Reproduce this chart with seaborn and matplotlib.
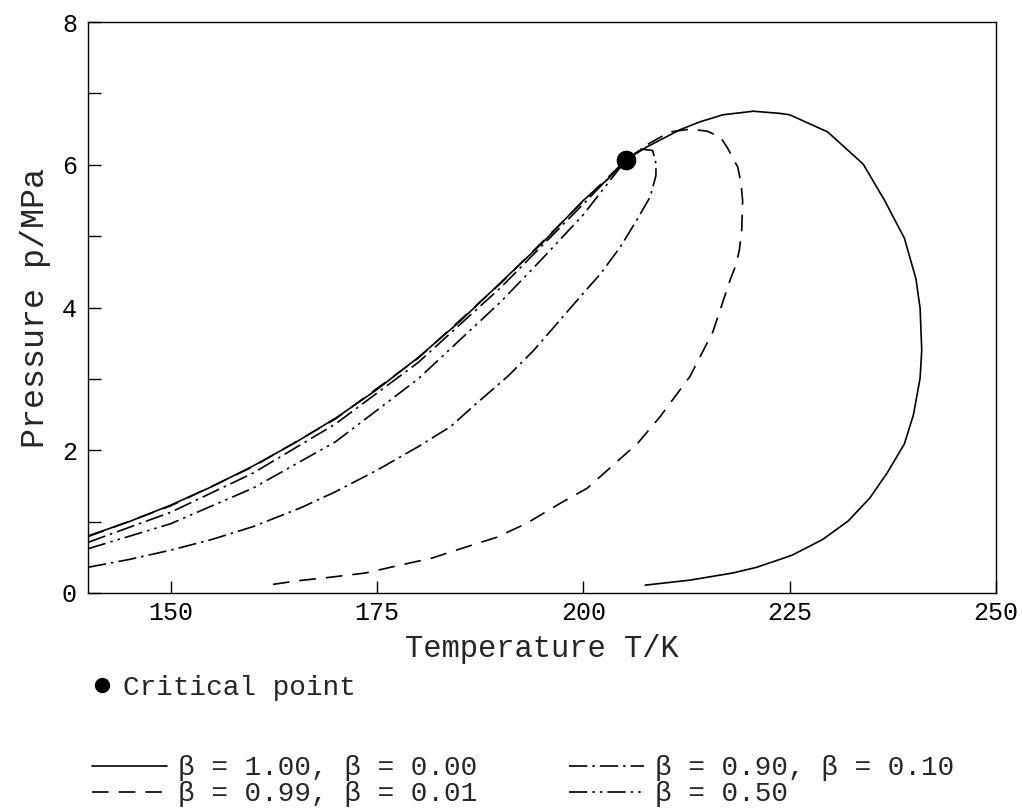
import matplotlib
matplotlib.use("Agg")
import matplotlib.pyplot as plt
import seaborn as sns
from matplotlib.lines import Line2D

# ---------------- data ----------------
# beta = 1.00 / 0.00 (solid): bubble branch + dew loop
solid_T = [140, 145, 150, 155, 160, 165, 170, 175, 180, 185, 190, 195, 200, 203, 205.2,
           207.7, 211.7, 214.1, 216.9, 220.6, 223.8, 225.0, 229.6, 233.9, 236.5, 238.9,
           240.3, 240.8, 241.0, 240.8, 240.0, 238.9, 236.8, 234.7, 232.1, 229.0, 225.3,
           223.8, 221.0, 218.1, 212.9, 207.5]
solid_p = [0.80, 1.00, 1.23, 1.49, 1.78, 2.10, 2.45, 2.85, 3.30, 3.80, 4.35, 4.90, 5.50, 5.80, 6.07,
           6.25, 6.49, 6.60, 6.70, 6.75, 6.72, 6.70, 6.46, 6.01, 5.50, 4.97,
           4.40, 3.99, 3.40, 3.01, 2.50, 2.09, 1.68, 1.33, 1.01, 0.75, 0.53,
           0.47, 0.36, 0.28, 0.18, 0.11]

# beta = 0.99 / 0.01 (dashed)
dash_bub_T = [140, 150, 160, 170, 180, 190, 200, 205.2]
dash_bub_p = [0.79, 1.22, 1.77, 2.44, 3.29, 4.34, 5.49, 6.07]
dash_dew_T = [205.2, 208.0, 210.5, 213.0, 215.0, 216.6, 217.5, 218.7, 219.1, 219.3, 219.2,
              218.9, 218.5, 217.8, 215.7, 212.9, 209.3, 206.6, 203.6, 200.5, 196.8, 193.2,
              189.5, 185.4, 181.7, 177.4, 173.6, 169.3, 165.3, 161.2]
dash_dew_p = [6.07, 6.30, 6.46, 6.50, 6.47, 6.39, 6.23, 5.97, 5.75, 5.50, 5.10,
              4.80, 4.60, 4.39, 3.66, 3.03, 2.47, 2.10, 1.79, 1.47, 1.23, 0.98,
              0.78, 0.63, 0.49, 0.38, 0.28, 0.22, 0.17, 0.10]

# beta = 0.90 / 0.10 (dash-dot)
dd_bub_T = [140, 150, 160, 170, 180, 190, 200, 205.2]
dd_bub_p = [0.71, 1.13, 1.68, 2.37, 3.23, 4.28, 5.45, 6.07]
dd_dew_T = [140, 145, 150, 155, 160, 165.7, 170, 175, 180, 183.9, 187, 190.8, 194, 197,
            200, 202, 204.5, 206.5, 208.1, 208.8, 208.8, 208.4, 207.0, 205.2]
dd_dew_p = [0.36, 0.47, 0.60, 0.75, 0.93, 1.19, 1.42, 1.72, 2.05, 2.33, 2.65, 3.03, 3.40, 3.80,
            4.20, 4.46, 4.85, 5.23, 5.55, 5.85, 6.02, 6.20, 6.22, 6.07]

# beta = 0.50 (dash-dot-dot)
ddd_T = [140, 150, 160, 170, 180, 190, 195, 200, 205.2]
ddd_p = [0.62, 0.97, 1.47, 2.12, 3.00, 4.08, 4.68, 5.30, 6.07]

# critical point
crit_T = [205.2]
crit_p = [6.07]

x_ticks = [150, 175, 200, 225, 250]
y_ticks = [0, 2, 4, 6, 8]
y_minor = [1, 3, 5, 7]

legend_labels = ["β = 1.00, β = 0.00", "β = 0.99, β = 0.01",
                 "β = 0.90, β = 0.10", "β = 0.50"]

# ---------------- style ----------------
sns.set_theme(style="ticks", rc={"axes.edgecolor": "black", "axes.linewidth": 1.0,
                                 "xtick.color": "black", "ytick.color": "black"})
plt.rcParams["font.family"] = ["Liberation Mono", "DejaVu Sans"]

LW = 1.2
ls_solid = "-"
ls_dash = (0, (10, 6))
ls_dd = (0, (11, 3, 1.5, 3))
ls_ddd = (0, (11, 3, 1.5, 3, 1.5, 3))

fig = plt.figure(figsize=(10.22, 8.09), dpi=100)
ax = fig.add_axes([0.0861, 0.2670, 0.8885, 0.7058])

def draw(T, p, ls):
    sns.lineplot(x=T, y=p, sort=False, estimator=None, ax=ax, color="black",
                 linewidth=LW, linestyle=ls)

draw(solid_T, solid_p, ls_solid)
draw(dash_bub_T, dash_bub_p, ls_dash)
draw(dash_dew_T, dash_dew_p, ls_dash)
draw(dd_bub_T, dd_bub_p, ls_dd)
draw(dd_dew_T, dd_dew_p, ls_dd)
draw(ddd_T, ddd_p, ls_ddd)

sns.scatterplot(x=crit_T, y=crit_p, ax=ax, color="black", s=200, zorder=5,
                edgecolor="black", linewidth=0)

ax.set_xlim(140, 250)
ax.set_ylim(0, 8)
ax.set_xticks(x_ticks)
ax.set_yticks(y_ticks)
ax.set_yticks(y_minor, minor=True)
ax.tick_params(axis="both", which="both", direction="in", length=9, width=1.0,
               labelsize=18, top=False, right=False)
ax.tick_params(axis="x", pad=6)
ax.tick_params(axis="y", pad=8)
for s in ax.spines.values():
    s.set_visible(True)
    s.set_color("black")
    s.set_linewidth(1.0)

ax.set_xlabel("Temperature T/K", fontsize=22, labelpad=6)
ax.set_ylabel("Pressure p/MPa", fontsize=24, labelpad=8)

# legends
h_cp = Line2D([], [], marker="o", color="black", linestyle="none", markersize=10)
leg1 = fig.legend([h_cp], ["Critical point"], loc="center left",
                  bbox_to_anchor=(0.092, 0.1496), frameon=False, fontsize=20,
                  handlelength=0.6, handletextpad=0.45, borderpad=0, borderaxespad=0)

handles = [Line2D([], [], color="black", lw=LW, linestyle=ls_solid),
           Line2D([], [], color="black", lw=LW, linestyle=ls_dash),
           Line2D([], [], color="black", lw=LW, linestyle=ls_dd),
           Line2D([], [], color="black", lw=LW, linestyle=ls_ddd)]
leg2 = fig.legend(handles, legend_labels, loc="center left", ncol=2,
                  bbox_to_anchor=(0.090, 0.0340), frameon=False, fontsize=20,
                  handlelength=2.7, handletextpad=0.4, columnspacing=3.3,
                  labelspacing=0.0, borderpad=0, borderaxespad=0)

fig.savefig("out.png", dpi=100)
